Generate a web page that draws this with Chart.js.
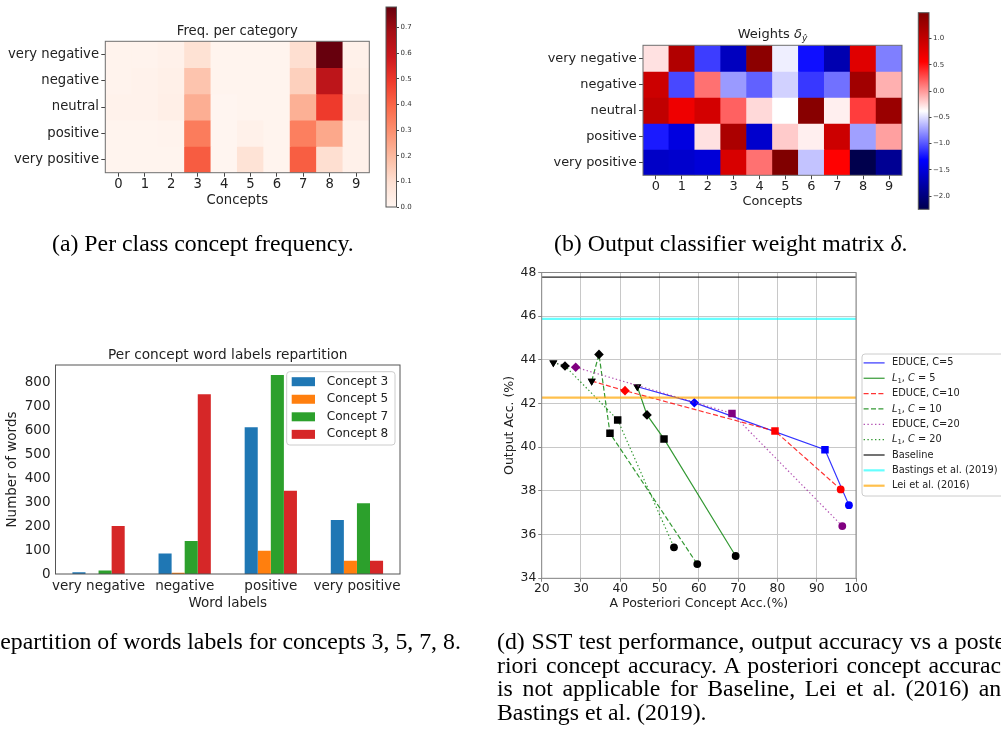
<!DOCTYPE html>
<html><head><meta charset="utf-8">
<script src="https://cdn.jsdelivr.net/npm/chart.js@4.4.0/dist/chart.umd.min.js"></script>
<style>
html,body{margin:0;padding:0;background:#fff;}
#wrap{position:relative;width:1001px;height:734px;overflow:hidden;background:#fff;}
#wrap canvas{position:absolute;left:0;top:0;}
.cap{position:absolute;font-family:'Liberation Serif','Times New Roman',serif;font-size:23.8px;line-height:24px;color:#000;white-space:nowrap;}
.just{width:516px;text-align:justify;text-align-last:justify;}
</style></head><body>
<div id="wrap">
<canvas id="cA" width="1001" height="734"></canvas>
<canvas id="cbA" width="1001" height="734"></canvas>
<canvas id="cB" width="1001" height="734"></canvas>
<canvas id="cbB" width="1001" height="734"></canvas>
<canvas id="cC" width="1001" height="734"></canvas>
<canvas id="cD" width="1001" height="734"></canvas>
<div class="cap" style="left:52px;top:231px">(a) Per class concept frequency.</div>
<div class="cap" style="left:554px;top:231px">(b) Output classifier weight matrix <i>δ</i>.</div>
<div class="cap" style="left:-48px;top:629px">(c) Repartition of words labels for concepts 3, 5, 7, 8.</div>
<div class="cap just" style="left:497px;top:629px">(d) SST test performance, output accuracy vs a poste-</div>
<div class="cap just" style="left:497px;top:652.5px">riori concept accuracy. A posteriori concept accuracy</div>
<div class="cap just" style="left:497px;top:676px">is not applicable for Baseline, Lei et al. (2016) and</div>
<div class="cap" style="left:497px;top:699.5px">Bastings et al. (2019).</div>
</div>
<script>
// ================= DATA =================
const concepts = ['0','1','2','3','4','5','6','7','8','9'];
const sentimentLabels = ['very negative','negative','neutral','positive','very positive'];

// (a) frequency per category (rows = sentiment, cols = concepts)
const freqVeryNegative = [0.01, 0.01, 0.02, 0.09, 0.005, 0.005, 0.005, 0.10, 0.78, 0.02];
const freqNegative     = [0.01, 0.015, 0.025, 0.17, 0.005, 0.005, 0.005, 0.14, 0.62, 0.03];
const freqNeutral      = [0.015, 0.015, 0.03, 0.225, 0.0, 0.005, 0.005, 0.22, 0.49, 0.05];
const freqPositive     = [0.005, 0.005, 0.01, 0.345, 0.0, 0.02, 0.005, 0.34, 0.24, 0.02];
const freqVeryPositive = [0.005, 0.005, 0.005, 0.42, 0.0, 0.085, 0.005, 0.415, 0.10, 0.02];
const freqColorbarTicks = [0.0, 0.1, 0.2, 0.3, 0.4, 0.5, 0.6, 0.7];

// (b) output classifier weights
const wVeryNegative = [-0.27, 1.13, -1.09, -1.65, 1.40, -0.44, -1.26, -1.73, 0.78, -0.85];
const wNegative     = [0.93, -1.05, 0.14, -0.75, -0.96, -0.55, -1.11, -0.90, 1.25, -0.09];
const wNeutral      = [1.02, 0.67, 0.88, 0.20, -0.24, -0.38, 1.43, -0.32, 0.33, 1.30];
const wPositive     = [-1.22, -1.48, -0.27, 1.17, -1.58, -0.19, -0.32, 0.93, -0.73, -0.03];
const wVeryPositive = [-1.61, -1.58, -1.52, 0.84, 0.14, 1.49, -0.60, 0.55, -2.25, -1.88];
const weightColorbarTicks = [-2.0, -1.5, -1.0, -0.5, 0.0, 0.5, 1.0];

// (c) per concept word labels repartition
const wordLabels = ['very negative','negative','positive','very positive'];
const conceptNames = ['Concept 3','Concept 5','Concept 7','Concept 8'];
const concept3Counts = [7, 85, 612, 225];
const concept5Counts = [0, 5, 97, 55];
const concept7Counts = [15, 138, 830, 295];
const concept8Counts = [200, 750, 347, 55];
const countTicks = [0, 100, 200, 300, 400, 500, 600, 700, 800];
const countMax = 871.5;

// (d) output accuracy vs a posteriori concept accuracy
const educe5X  = [44.34, 58.85, 92.1, 98.2];   const educe5Y  = [42.77, 42.04, 39.89, 37.35];
const l1c5X    = [44.34, 46.8, 51.13, 69.37];  const l1c5Y    = [42.77, 41.48, 40.38, 35.02];
const educe10X = [32.73, 41.2, 79.38, 96.1];   const educe10Y = [43.03, 42.59, 40.74, 38.07];
const l1c10X   = [32.73, 34.58, 37.38, 59.6];  const l1c10Y   = [43.03, 44.25, 40.64, 34.65];
const educe20X = [22.96, 28.65, 68.43, 96.51]; const educe20Y = [43.87, 43.66, 41.55, 36.39];
const l1c20X   = [22.96, 25.93, 39.34, 53.67]; const l1c20Y   = [43.87, 43.72, 41.25, 35.42];
const baselineAcc = 47.79;
const bastingsAcc = 45.88;
const leiAcc = 42.27;
const accXTicks = [20, 30, 40, 50, 60, 70, 80, 90, 100];
const accYTicks = [34, 36, 38, 40, 42, 44, 46, 48];
const seriesLabels = ['EDUCE, C=5', 'L_1, C = 5', 'EDUCE, C=10', 'L_1, C = 10', 'EDUCE, C=20', 'L_1, C = 20', 'Baseline', 'Bastings et al. (2019)', 'Lei et al. (2016)'];

// ================= HELPERS =================
const W = 1001, H = 734;
const FONT = "'DejaVu Sans', 'Liberation Sans', sans-serif";
const REDS = ['#fff5f0','#fee0d2','#fcbba1','#fc9272','#fb6a4a','#ef3b2c','#cb181d','#a50f15','#67000d'];
const SEISMIC = ['#00004d','#0000ff','#ffffff','#ff0000','#800000'];

function hexRgb(h){ return [parseInt(h.slice(1,3),16), parseInt(h.slice(3,5),16), parseInt(h.slice(5,7),16)]; }
function cmap(stops, t){
  t = Math.max(0, Math.min(1, t));
  const n = stops.length - 1;
  const i = Math.min(Math.floor(t * n), n - 1);
  const f = t * n - i;
  const a = hexRgb(stops[i]), b = hexRgb(stops[i+1]);
  const c = a.map((v, k) => Math.round(v + (b[k] - v) * f));
  return 'rgb(' + c.join(',') + ')';
}
function framePlugin(color, lw){
  return { id: 'frame', afterDatasetsDraw(chart){
    const a = chart.chartArea, c = chart.ctx;
    c.save(); c.strokeStyle = color; c.lineWidth = lw;
    c.strokeRect(a.left, a.top, a.right - a.left, a.bottom - a.top);
    c.restore();
  }};
}
function drawRich(c, segs, x, y, size, color){
  for (const s of segs){
    const sz = s.sub ? size * 0.7 : size;
    c.font = (s.it ? 'italic ' : '') + sz + 'px ' + FONT;
    c.fillStyle = color; c.textBaseline = 'middle'; c.textAlign = 'left';
    c.fillText(s.t, x, y + (s.sub ? size * 0.3 : 0));
    x += c.measureText(s.t).width;
  }
  return x;
}
function richWidth(c, segs, size){
  let w = 0;
  for (const s of segs){
    const sz = s.sub ? size * 0.7 : size;
    c.font = (s.it ? 'italic ' : '') + sz + 'px ' + FONT;
    w += c.measureText(s.t).width;
  }
  return w;
}
function parseLabel(str){
  if (str.startsWith('L_1')){
    const rest = str.slice(3);
    const ci = rest.indexOf('C');
    return [{t:'L', it:1}, {t:'1', sub:1}, {t: rest.slice(0, ci)}, {t:'C', it:1}, {t: rest.slice(ci + 1)}];
  }
  return [{t: str}];
}
function titlePlugin(segs, cy, size){
  return { id: 'ptitle', afterDraw(chart){
    const c = chart.ctx, a = chart.chartArea;
    c.save();
    const w = richWidth(c, segs, size);
    drawRich(c, segs, (a.left + a.right) / 2 - w / 2, cy, size, '#222');
    c.restore();
  }};
}
const baseOpts = { responsive: false, maintainAspectRatio: false, animation: false, events: [] };

// ================= HEATMAPS =================
function makeHeatmap(id, rows, stops, g, fs, titlePl){
  const all = rows.flat();
  const vmin = Math.min(...all), vmax = Math.max(...all);
  const datasets = rows.map((vals, r) => ({
    data: vals.map(() => [r, r + 1]),
    backgroundColor: vals.map(v => cmap(stops, (v - vmin) / (vmax - vmin))),
    grouped: false, barPercentage: 1, categoryPercentage: 1, borderWidth: 0
  }));
  new Chart(document.getElementById(id), {
    type: 'bar',
    data: { labels: concepts, datasets },
    options: Object.assign({}, baseOpts, {
      layout: { padding: { left: g.L, top: g.y0, right: W - g.x1, bottom: H - g.B } },
      plugins: { legend: { display: false }, tooltip: { enabled: false } },
      scales: {
        x: { type: 'category', offset: true,
          grid: { display: true, drawOnChartArea: false, drawTicks: true, tickLength: 4, tickColor: '#444', offset: false },
          border: { display: false },
          ticks: { font: { family: FONT, size: fs }, color: '#222', padding: 0, maxRotation: 0, autoSkip: false },
          title: { display: true, text: 'Concepts', font: { family: FONT, size: fs }, color: '#222', padding: 0 },
          afterFit: s => { s.height = g.B - g.y1; } },
        y: { type: 'linear', min: 0, max: rows.length, reverse: true,
          afterBuildTicks: s => { s.ticks = rows.map((_, i) => ({ value: i + 0.5 })); },
          grid: { display: true, drawOnChartArea: false, drawTicks: true, tickLength: 4, tickColor: '#444' },
          border: { display: false },
          ticks: { callback: v => sentimentLabels[Math.floor(v)], font: { family: FONT, size: fs }, color: '#222', padding: 2.3, autoSkip: false },
          afterFit: s => { s.width = g.x0 - g.L; } }
      }
    }),
    plugins: [framePlugin('#6e6e6e', 1), titlePl]
  });
  return [vmin, vmax];
}
function makeColorbar(id, vmin, vmax, stops, ticks, fmt, g){
  new Chart(document.getElementById(id), {
    type: 'bar',
    data: { labels: [''], datasets: [{
      data: [[vmin, vmax]],
      backgroundColor: (ctx) => {
        const ch = ctx.chart;
        if (!ch.chartArea || !ch.scales.y) return '#fff';
        const ys = ch.scales.y;
        const grad = ch.ctx.createLinearGradient(0, ys.getPixelForValue(vmin), 0, ys.getPixelForValue(vmax));
        stops.forEach((s, i) => grad.addColorStop(i / (stops.length - 1), s));
        return grad;
      },
      barPercentage: 1, categoryPercentage: 1, borderWidth: 0
    }]},
    options: Object.assign({}, baseOpts, {
      layout: { padding: { left: g.x0, top: g.y0, right: W - g.x1 - 40, bottom: H - g.y1 } },
      plugins: { legend: { display: false }, tooltip: { enabled: false } },
      scales: {
        x: { display: false },
        y: { position: 'right', min: vmin, max: vmax,
          afterBuildTicks: s => { s.ticks = ticks.map(v => ({ value: v })); },
          grid: { display: true, drawOnChartArea: false, drawTicks: true, tickLength: 2.5, tickColor: '#444' },
          border: { display: false },
          ticks: { callback: fmt, font: { family: FONT, size: 7 }, color: '#333', padding: 1.5, autoSkip: false },
          afterFit: s => { s.width = 40; } }
      }
    }),
    plugins: [framePlugin('#555', 1)]
  });
}
const fmt1 = v => (v < 0 ? '\u2212' : '') + Math.abs(v).toFixed(1);

const freqRows = [freqVeryNegative, freqNegative, freqNeutral, freqPositive, freqVeryPositive];
const [fMin, fMax] = makeHeatmap('cA', freqRows, REDS,
  { L: 0, x0: 105.3, y0: 41.3, x1: 369.3, y1: 172.7, B: 208.6 }, 13.2,
  titlePlugin([{ t: 'Freq. per category' }], 32, 13.2));
makeColorbar('cbA', fMin, fMax, REDS, freqColorbarTicks, fmt1, { x0: 386, y0: 7, x1: 396.5, y1: 207 });

const weightRows = [wVeryNegative, wNegative, wNeutral, wPositive, wVeryPositive];
const [wMin, wMax] = makeHeatmap('cB', weightRows, SEISMIC,
  { L: 520, x0: 643, y0: 45.3, x1: 902, y1: 175.3, B: 209.7 }, 12.9,
  titlePlugin([{ t: 'Weights ' }, { t: 'δ', it: 1 }, { t: 'ŷ', it: 1, sub: 1 }], 35, 13));
makeColorbar('cbB', wMin, wMax, SEISMIC, weightColorbarTicks, fmt1, { x0: 918.3, y0: 12.7, x1: 929, y1: 209.3 });

// ================= (c) BAR CHART =================
(function(){
  const g = { L: 3.9, x0: 55.5, y0: 365, x1: 400, y1: 574, B: 611.1 };
  const fs = 13.5;
  const colors = ['#1f77b4', '#ff7f0e', '#2ca02c', '#d62728'];
  const counts = [concept3Counts, concept5Counts, concept7Counts, concept8Counts];
  const legendPl = { id: 'plegend', afterDraw(chart){
    const c = chart.ctx, a = chart.chartArea;
    const bw = 108.3, bh = 73.3;
    const bx = a.right - 5 - bw, by = a.top + 6.7;
    c.save();
    c.beginPath();
    c.roundRect(bx, by, bw, bh, 3);
    c.fillStyle = 'rgba(255,255,255,0.8)'; c.fill();
    c.strokeStyle = '#cccccc'; c.lineWidth = 1; c.stroke();
    chart.data.datasets.forEach((ds, i) => {
      const cy = by + 10 + i * 17.55;
      c.fillStyle = ds.backgroundColor;
      c.fillRect(bx + 5, cy - 4.5, 23.3, 9);
      c.font = '12.1px ' + FONT; c.fillStyle = '#222'; c.textBaseline = 'middle'; c.textAlign = 'left';
      c.fillText(ds.label, bx + 40, cy);
    });
    c.restore();
  }};
  new Chart(document.getElementById('cC'), {
    type: 'bar',
    data: { labels: wordLabels, datasets: counts.map((d, i) => ({
      label: conceptNames[i], data: d, backgroundColor: colors[i], borderWidth: 0,
      barPercentage: 1, categoryPercentage: 0.607 })) },
    options: Object.assign({}, baseOpts, {
      layout: { padding: { left: g.L, top: g.y0, right: W - g.x1, bottom: H - g.B } },
      plugins: { legend: { display: false }, tooltip: { enabled: false } },
      scales: {
        x: { type: 'category', offset: true,
          grid: { display: false, drawTicks: false },
          border: { display: false },
          ticks: { font: { family: FONT, size: fs }, color: '#222', padding: 4.4, maxRotation: 0, autoSkip: false },
          title: { display: true, text: 'Word labels', font: { family: FONT, size: fs }, color: '#222', padding: 0 },
          afterFit: s => { s.height = g.B - g.y1; } },
        y: { type: 'linear', min: 0, max: countMax,
          afterBuildTicks: s => { s.ticks = countTicks.map(v => ({ value: v })); },
          grid: { display: false, drawTicks: false },
          border: { display: false },
          ticks: { font: { family: FONT, size: fs }, color: '#222', padding: 5, autoSkip: false },
          title: { display: true, text: 'Number of words', font: { family: FONT, size: fs }, color: '#222', padding: 0 },
          afterFit: s => { s.width = g.x0 - g.L; } }
      }
    }),
    plugins: [framePlugin('#555', 1), titlePlugin([{ t: 'Per concept word labels repartition' }], 355.7, 13.7), legendPl]
  });
})();

// ================= (d) ACCURACY CHART =================
(function(){
  const g = { L: 502.5, x0: 541.7, y0: 272.5, x1: 856, y1: 578.3, B: 611.5 };
  const fs = 12.3;
  const DASH = [5, 2.4], DOT = [1.4, 2.4];
  const styles = ['triangle', 'rectRot', 'rect', 'circle'];
  const rot = [180, 0, 0, 0];
  const rad = [4.6, 4.8, 5.3, 3.9];
  const pts = (xs, ys) => xs.map((x, i) => ({ x, y: ys[i] }));
  const series = [
    { x: educe5X,  y: educe5Y,  line: 'rgba(0,0,255,0.8)',   mark: '#0000ff', dash: [] },
    { x: l1c5X,    y: l1c5Y,    line: 'rgba(0,128,0,0.8)',   mark: '#000000', dash: [] },
    { x: educe10X, y: educe10Y, line: 'rgba(255,0,0,0.8)',   mark: '#ff0000', dash: DASH },
    { x: l1c10X,   y: l1c10Y,   line: 'rgba(0,128,0,0.8)',   mark: '#000000', dash: DASH },
    { x: educe20X, y: educe20Y, line: 'rgba(160,40,160,0.8)', mark: '#800080', dash: DOT },
    { x: l1c20X,   y: l1c20Y,   line: 'rgba(0,128,0,0.8)',   mark: '#000000', dash: DOT }
  ];
  const hlines = [
    { v: baselineAcc, color: 'rgba(0,0,0,0.85)', w: 1.3 },
    { v: bastingsAcc, color: 'rgba(0,255,255,0.6)', w: 2.2 },
    { v: leiAcc, color: 'rgba(255,165,0,0.7)', w: 2.2 }
  ];
  const n = series.length + hlines.length;
  const datasets = [];
  series.forEach((s, i) => datasets.push({
    label: seriesLabels[i], data: pts(s.x, s.y), showLine: true,
    borderColor: s.line, borderWidth: 1.2, borderDash: s.dash,
    pointStyle: styles, pointRotation: rot, pointRadius: rad,
    pointBackgroundColor: s.x.map((_, k) => k === 0 ? '#000000' : s.mark),
    pointBorderWidth: 0, order: n - i
  }));
  hlines.forEach((h, j) => datasets.push({
    label: seriesLabels[series.length + j],
    data: [{ x: accXTicks[0], y: h.v }, { x: accXTicks[accXTicks.length - 1], y: h.v }],
    showLine: true, borderColor: h.color, borderWidth: h.w, pointRadius: 0, order: n - series.length - j
  }));
  const legendPl = { id: 'plegend', afterDraw(chart){
    const c = chart.ctx, a = chart.chartArea;
    const bx = a.right + 6, by = a.top + 81.5, bw = 150, bh = 142;
    c.save();
    c.beginPath(); c.roundRect(bx, by, bw, bh, 3);
    c.fillStyle = 'rgba(255,255,255,0.8)'; c.fill();
    c.strokeStyle = '#cccccc'; c.lineWidth = 1; c.stroke();
    chart.data.datasets.forEach((ds, i) => {
      const cy = by + 8.9 + i * 15.35;
      c.strokeStyle = ds.borderColor; c.lineWidth = ds.borderWidth;
      c.setLineDash(ds.borderDash || []);
      c.beginPath(); c.moveTo(bx + 1.6, cy); c.lineTo(bx + 22.6, cy); c.stroke();
      c.setLineDash([]);
      drawRich(c, parseLabel(ds.label), bx + 30, cy, 9.8, '#222');
    });
    c.restore();
  }};
  new Chart(document.getElementById('cD'), {
    type: 'scatter',
    data: { datasets },
    options: Object.assign({}, baseOpts, {
      layout: { padding: { left: g.L, top: g.y0, right: W - g.x1, bottom: H - g.B } },
      plugins: { legend: { display: false }, tooltip: { enabled: false } },
      scales: {
        x: { type: 'linear', min: accXTicks[0], max: accXTicks[accXTicks.length - 1],
          afterBuildTicks: s => { s.ticks = accXTicks.map(v => ({ value: v })); },
          grid: { display: true, color: '#c8c8c8', lineWidth: 1, drawTicks: true, tickLength: 3.5, tickColor: '#888' },
          border: { display: false },
          ticks: { font: { family: FONT, size: fs }, color: '#222', padding: 0, maxRotation: 0, autoSkip: false },
          title: { display: true, text: 'A Posteriori Concept Acc.(%)', font: { family: FONT, size: 12.5 }, color: '#222', padding: 0 },
          afterFit: s => { s.height = g.B - g.y1; } },
        y: { type: 'linear', min: accYTicks[0], max: accYTicks[accYTicks.length - 1],
          afterBuildTicks: s => { s.ticks = accYTicks.map(v => ({ value: v })); },
          grid: { display: true, color: '#c8c8c8', lineWidth: 1, drawTicks: true, tickLength: 3.5, tickColor: '#888' },
          border: { display: false },
          ticks: { font: { family: FONT, size: fs }, color: '#222', padding: 2, autoSkip: false },
          title: { display: true, text: 'Output Acc. (%)', font: { family: FONT, size: 12.5 }, color: '#222', padding: 0 },
          afterFit: s => { s.width = g.x0 - g.L; } }
      }
    }),
    plugins: [framePlugin('#8a8a8a', 1), legendPl]
  });
})();
</script>
</body></html>
